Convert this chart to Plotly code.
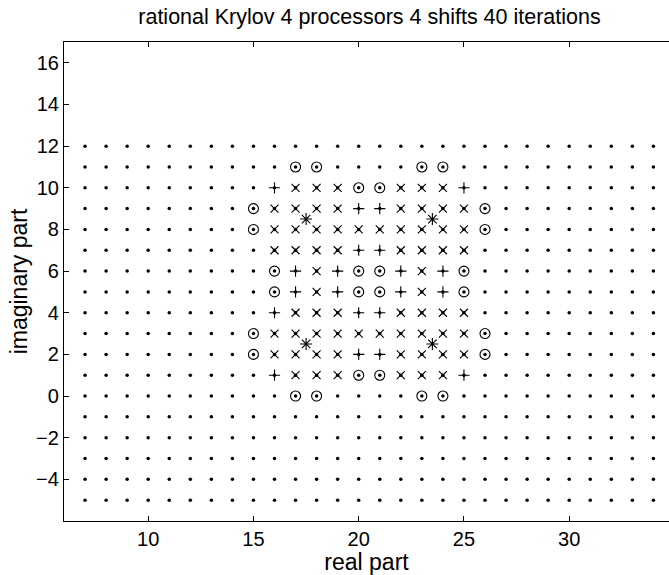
import plotly.graph_objects as go

# Eigenvalue grid (dots)
grid_re = list(range(7, 35))
grid_im = list(range(-5, 13))

# Ritz value markers
circ_re = [17, 18, 23, 24, 20, 21, 15, 26, 15, 26, 16, 20, 21, 25, 16, 20, 21, 25, 15, 26, 15, 26, 20, 21, 17, 18, 23, 24]
circ_im = [11, 11, 11, 11, 10, 10, 9, 9, 8, 8, 6, 6, 6, 6, 5, 5, 5, 5, 3, 3, 2, 2, 1, 1, 0, 0, 0, 0]

plus_re = [16, 25, 20, 21, 20, 21, 17, 19, 22, 24, 17, 19, 22, 24, 16, 20, 21, 20, 21, 16, 25]
plus_im = [10, 10, 9, 9, 7, 7, 6, 6, 6, 6, 5, 5, 5, 5, 4, 4, 4, 2, 2, 1, 1]

cross_rows = {
    10: [17, 18, 19, 22, 23, 24],
    9: [16, 17, 18, 19, 22, 23, 24, 25],
    8: [16, 17, 18, 19, 20, 21, 22, 23, 24, 25],
    7: [16, 17, 18, 19, 22, 23, 24, 25],
    6: [18, 23],
    5: [18, 23],
    4: [17, 18, 19, 22, 23, 24, 25],
    3: [16, 17, 18, 19, 20, 21, 22, 23, 24, 25],
    2: [16, 17, 18, 19, 22, 23, 24, 25],
    1: [17, 18, 19, 22, 23, 24],
}

shift_re = [17.5, 23.5, 17.5, 23.5]
shift_im = [8.5, 8.5, 2.5, 2.5]

x_ticks = [10, 15, 20, 25, 30]
y_ticks = [-4, -2, 0, 2, 4, 6, 8, 10, 12, 14, 16]

cross_re, cross_im = [], []
for im, res in cross_rows.items():
    for re in res:
        cross_re.append(re)
        cross_im.append(im)

dot_re = [r for i in grid_im for r in grid_re]
dot_im = [i for i in grid_im for r in grid_re]

fig = go.Figure()
fig.add_trace(go.Scatter(x=dot_re, y=dot_im, mode="markers",
                         marker=dict(symbol="circle", size=3.5, color="black"), hoverinfo="skip"))
fig.add_trace(go.Scatter(x=circ_re, y=circ_im, mode="markers",
                         marker=dict(symbol="circle-open", size=10, color="black", line=dict(width=1.1))))
fig.add_trace(go.Scatter(x=plus_re, y=plus_im, mode="markers",
                         marker=dict(symbol="cross-thin-open", size=8, color="black", line=dict(width=1.1))))
fig.add_trace(go.Scatter(x=cross_re, y=cross_im, mode="markers",
                         marker=dict(symbol="x-thin-open", size=8, color="black", line=dict(width=1.1))))
fig.add_trace(go.Scatter(x=shift_re, y=shift_im, mode="markers",
                         marker=dict(symbol="asterisk-open", size=10, color="black", line=dict(width=1.1))))

TICK_FS = 20
LABEL_FS = 19.5
font = dict(family="Liberation Sans, Arial, sans-serif", size=LABEL_FS, color="black")
L, T, B = 64, 42, 54
W, H = 669, 575
px_per_unit = 21.05
xmax = 6 + (W - L) / px_per_unit

fig.update_layout(
    width=W, height=H, margin=dict(l=L, r=0, t=T, b=B),
    paper_bgcolor="white", plot_bgcolor="white", showlegend=False,
    font=font,
    title=dict(text="rational Krylov 4 processors 4 shifts 40 iterations",
               x=369.5 / W, xanchor="center", y=1 - 16 / H, yanchor="middle",
               font=dict(size=21.5)),
    xaxis=dict(range=[6, xmax], tickvals=x_ticks, ticks="inside", ticklen=5,
               tickcolor="black", showline=True, linecolor="black", linewidth=1.2,
               mirror="ticks", showgrid=False, zeroline=False,
               title=dict(text="real part", standoff=3), tickfont=dict(size=TICK_FS)),
    yaxis=dict(range=[-6, 17], tickvals=y_ticks, ticks="inside", ticklen=5,
               tickcolor="black", showline=True, linecolor="black", linewidth=1.2,
               mirror=False, showgrid=False, zeroline=False,
               title=dict(text="imaginary part", standoff=2), tickfont=dict(size=TICK_FS)),
)

fig.write_html("out.html")
